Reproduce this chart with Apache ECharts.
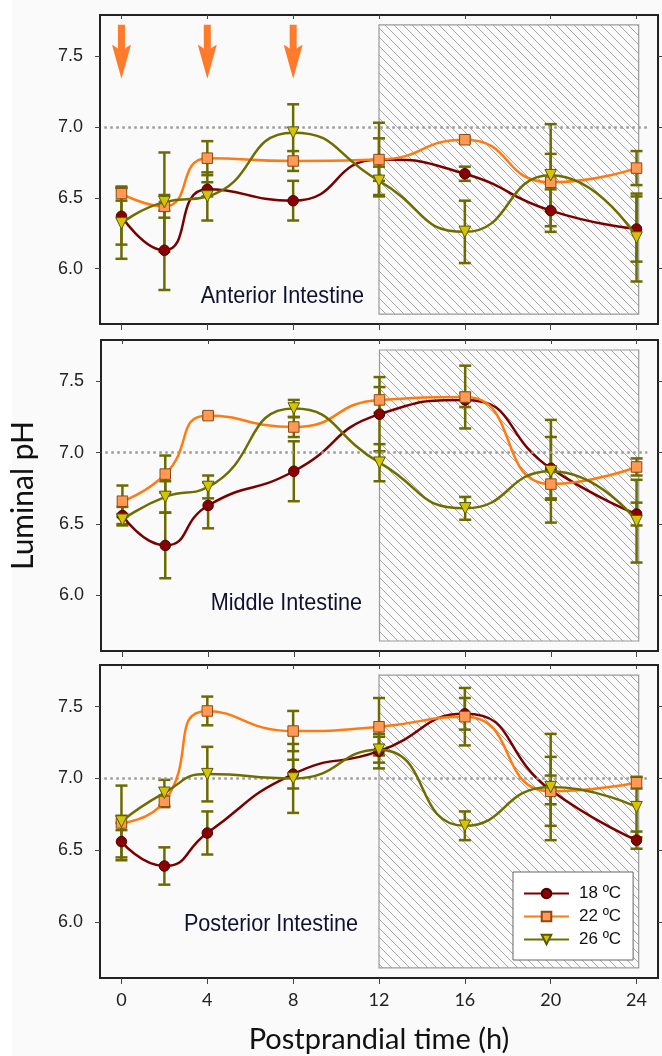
<!DOCTYPE html>
<html>
<head>
<meta charset="utf-8">
<script src="https://cdn.jsdelivr.net/npm/echarts@6/dist/echarts.min.js"></script>
<style>
html,body{margin:0;padding:0;background:#ffffff;}
#chart{width:662px;height:1056px;}
</style>
</head>
<body>
<div id="chart"></div>
<script>
// ---- Data ----
const times = [0, 2, 4, 8, 12, 16, 20, 24];
const xTicks = [0, 4, 8, 12, 16, 20, 24];
const yTicks = [6.0, 6.5, 7.0, 7.5];
const seriesNames = ['18 ºC', '22 ºC', '26 ºC'];
const panelNames = ['Anterior Intestine', 'Middle Intestine', 'Posterior Intestine'];
const arrowTimes = [0, 4, 8];
const referencePH = 7.0;
const darkPeriod = [12, 24.1];

// Anterior
const ant18 = [6.37, 6.13, 6.56, 6.48, 6.77, 6.67, 6.41, 6.28];
const ant18Err = [0.20, 0.28, 0.05, 0.14, 0.15, 0.05, 0.15, 0.23];
const ant22 = [6.53, 6.44, 6.78, 6.76, 6.77, 6.91, 6.61, 6.71];
const ant22Err = [0.05, 0.08, 0.12, 0.07, 0.26, 0.02, 0.20, 0.12];
const ant26 = [6.32, 6.47, 6.51, 6.96, 6.62, 6.26, 6.66, 6.22];
const ant26Err = [0.25, 0.35, 0.17, 0.20, 0.10, 0.22, 0.36, 0.31];
// Middle
const mid18 = [6.56, 6.35, 6.63, 6.87, 7.27, 7.37, 6.89, 6.57];
const mid18Err = [0.06, 0.23, 0.16, 0.21, 0.26, 0.05, 0.22, 0.08];
const mid22 = [6.66, 6.85, 7.26, 7.18, 7.37, 7.39, 6.78, 6.90];
const mid22Err = [0.11, 0.13, 0.02, 0.07, 0.09, 0.22, 0.10, 0.06];
const mid26 = [6.53, 6.69, 6.76, 7.31, 6.93, 6.61, 6.87, 6.52];
const mid26Err = [0.04, 0.11, 0.08, 0.06, 0.13, 0.08, 0.36, 0.29];
// Posterior
const post18 = [6.56, 6.39, 6.62, 7.03, 7.19, 7.45, 6.92, 6.57];
const post18Err = [0.13, 0.13, 0.15, 0.10, 0.12, 0.11, 0.10, 0.06];
const post22 = [6.69, 6.84, 7.47, 7.33, 7.36, 7.43, 6.91, 6.97];
const post22Err = [0.05, 0.04, 0.10, 0.14, 0.20, 0.20, 0.24, 0.04];
const post26 = [6.70, 6.90, 7.03, 7.00, 7.20, 6.67, 6.94, 6.80];
const post26Err = [0.25, 0.09, 0.19, 0.24, 0.09, 0.10, 0.37, 0.21];

const panels = [
  [[ant18, ant18Err], [ant22, ant22Err], [ant26, ant26Err]],
  [[mid18, mid18Err], [mid22, mid22Err], [mid26, mid26Err]],
  [[post18, post18Err], [post22, post22Err], [post26, post26Err]]
];

// ---- Styles ----
const lineColors = ['#7a0000', '#ff7a10', '#6e6e00'];
const markerFill = ['#8a0000', '#ff9955', '#d6c400'];
const markerBorder = ['#4a0000', '#8a4a10', '#5a5a00'];
const symbols = ['circle', 'rect', 'path://M0,0 L10,0 L5,9 Z'];
const symbolSizes = [10.5, 10.5, 11.5];
const errColor = '#6b6b00';

const grids = [
  {left: 100, top: 15, width: 558, height: 309},
  {left: 100, top: 340, width: 558, height: 311},
  {left: 100, top: 665, width: 558, height: 313}
];
const yMin = 5.61, yMax = 7.79;

// hatch pattern
const pc = document.createElement('canvas');
pc.width = 9; pc.height = 9;
const ctx = pc.getContext('2d');
ctx.strokeStyle = '#a8a8a8';
ctx.lineWidth = 1;
ctx.beginPath();
ctx.moveTo(-1, -1); ctx.lineTo(10, 10);
ctx.moveTo(-1, 8); ctx.lineTo(1, 10);
ctx.moveTo(8, -1); ctx.lineTo(10, 1);
ctx.stroke();

const fontSans = '"Liberation Sans", Arial, sans-serif';
const fontCal = 'Lato, "Open Sans", sans-serif';

const xAxes = [], yAxes = [], series = [];
grids.forEach((g, p) => {
  const isLast = p === 2;
  xAxes.push({
    gridIndex: p, type: 'value', min: -1, max: 25, position: 'bottom',
    axisLine: {show: true, onZero: false, lineStyle: {color: '#222', width: 2}},
    axisTick: {show: true, customValues: xTicks, length: 6, lineStyle: {color: '#444', width: 1}},
    axisLabel: {show: isLast, customValues: xTicks, margin: 13, fontSize: 18, fontFamily: fontCal, color: '#222'},
    splitLine: {show: false},
    name: isLast ? 'Postprandial time (h)' : '',
    nameLocation: 'middle', nameGap: 47,
    nameTextStyle: {fontSize: 29, fontFamily: fontCal, color: '#111'}
  });
  xAxes.push({
    gridIndex: p, type: 'value', min: -1, max: 25, position: 'top',
    axisLine: {show: true, onZero: false, lineStyle: {color: '#222', width: 2}},
    axisTick: {show: true, inside: true, customValues: xTicks, length: 4, lineStyle: {color: '#444', width: 1}},
    axisLabel: {show: false}, splitLine: {show: false}
  });
  yAxes.push({
    gridIndex: p, type: 'value', min: yMin, max: yMax, position: 'left',
    axisLine: {show: true, onZero: false, lineStyle: {color: '#222', width: 2}},
    axisTick: {show: true, customValues: yTicks, length: 5, lineStyle: {color: '#444', width: 1}},
    axisLabel: {show: true, customValues: yTicks, margin: 17, fontSize: 18, fontFamily: fontSans, color: '#222',
      formatter: v => v.toFixed(1)},
    splitLine: {show: false},
    name: p === 1 ? 'Luminal pH' : '',
    nameLocation: 'middle', nameGap: 63, nameRotate: 90,
    nameTextStyle: {fontSize: 30, fontFamily: fontCal, color: '#111'}
  });
  yAxes.push({
    gridIndex: p, type: 'value', min: yMin, max: yMax, position: 'right',
    axisLine: {show: true, onZero: false, lineStyle: {color: '#222', width: 2}},
    axisTick: {show: true, customValues: yTicks, length: 4, lineStyle: {color: '#444', width: 1}},
    axisLabel: {show: false}, splitLine: {show: false}
  });

  const xi = p * 2, yi = p * 2;
  // background: dark period + reference line
  series.push({
    type: 'scatter', name: 'bg' + p, xAxisIndex: xi, yAxisIndex: yi, data: [], z: 1, silent: true,
    markArea: {
      silent: true,
      itemStyle: {color: {image: pc, repeat: 'repeat'}, borderColor: '#9a9a9a', borderWidth: 1.2, opacity: 1},
      data: [[{coord: [darkPeriod[0], 7.72]}, {coord: [darkPeriod[1], 5.68]}]]
    },
    markLine: {
      silent: true, symbol: 'none', label: {show: false},
      lineStyle: {color: '#9a9a9a', type: [2.5, 3.5], width: 2.5},
      data: [[{coord: [-0.8, referencePH]}, {coord: [24.5, referencePH]}]]
    }
  });

  panels[p].forEach((pair, s) => {
    const vals = pair[0], errs = pair[1];
    series.push({
      type: 'custom', name: 'err' + p + s, xAxisIndex: xi, yAxisIndex: yi, z: 3, silent: true,
      data: times.map((t, i) => [t, vals[i], errs[i]]),
      encode: {x: 0, y: 1},
      renderItem: (params, api) => {
        const x = api.value(0), y = api.value(1), e = api.value(2);
        const top = api.coord([x, y + e]);
        const bot = api.coord([x, y - e]);
        const w = 6;
        const st = {stroke: errColor, lineWidth: 2.5};
        return {type: 'group', children: [
          {type: 'line', shape: {x1: top[0], y1: top[1], x2: bot[0], y2: bot[1]}, style: st},
          {type: 'line', shape: {x1: top[0] - w, y1: top[1], x2: top[0] + w, y2: top[1]}, style: st},
          {type: 'line', shape: {x1: bot[0] - w, y1: bot[1], x2: bot[0] + w, y2: bot[1]}, style: st}
        ]};
      }
    });
  });
  panels[p].forEach((pair, s) => {
    const vals = pair[0];
    series.push({
      type: 'line', name: seriesNames[s], xAxisIndex: xi, yAxisIndex: yi, z: 4 + s,
      data: times.map((t, i) => [t, vals[i]]),
      smooth: 0.55,
      symbol: symbols[s], symbolSize: symbolSizes[s],
      lineStyle: {color: lineColors[s], width: 2.5},
      itemStyle: {color: markerFill[s], borderColor: markerBorder[s], borderWidth: 1},
      emphasis: {disabled: true}
    });
  });
});

// arrows (feeding times) in first panel
series.push({
  type: 'scatter', name: 'arrows', xAxisIndex: 0, yAxisIndex: 0, z: 8, silent: true,
  data: arrowTimes.map(t => [t, 7.53]),
  symbol: 'path://M6,0 L13,0 L13,24 Q15,22 19,20 L9.5,54 L0,20 Q4,22 6,24 Z',
  symbolSize: [19, 54],
  itemStyle: {color: '#ff7a2a', opacity: 1}
});

const chart = echarts.init(document.getElementById('chart'), null, {renderer: 'canvas'});
const labelStyle = {fontSize: 24, fontFamily: fontSans, fill: '#101030', align: 'right', verticalAlign: 'middle'};
chart.setOption({
  animation: false,
  backgroundColor: '#ffffff',
  grid: grids.map(g => Object.assign({show: false}, g)),
  xAxis: xAxes,
  yAxis: yAxes,
  legend: {
    data: seriesNames, orient: 'vertical', left: 513, top: 872,
    padding: [13, 12, 12, 10], itemGap: 6, itemWidth: 45, itemHeight: 12,
    backgroundColor: '#ffffff', borderColor: '#666', borderWidth: 1,
    textStyle: {fontSize: 17, fontFamily: fontSans, color: '#111', padding: [0, 0, 0, 5]},
    selectedMode: false
  },
  graphic: [
    {type: 'rect', z: -10, silent: true, shape: {x: 12, y: 0, width: 650, height: 1056}, style: {fill: '#fafafa'}},
    {type: 'text', z: 50, silent: true, x: 364, y: 296, scaleX: 0.9, style: Object.assign({text: panelNames[0]}, labelStyle)},
    {type: 'text', z: 50, silent: true, x: 362, y: 603, scaleX: 0.9, style: Object.assign({text: panelNames[1]}, labelStyle)},
    {type: 'text', z: 50, silent: true, x: 358, y: 924, scaleX: 0.9, style: Object.assign({text: panelNames[2]}, labelStyle)}
  ],
  series: series
});
</script>
</body>
</html>
